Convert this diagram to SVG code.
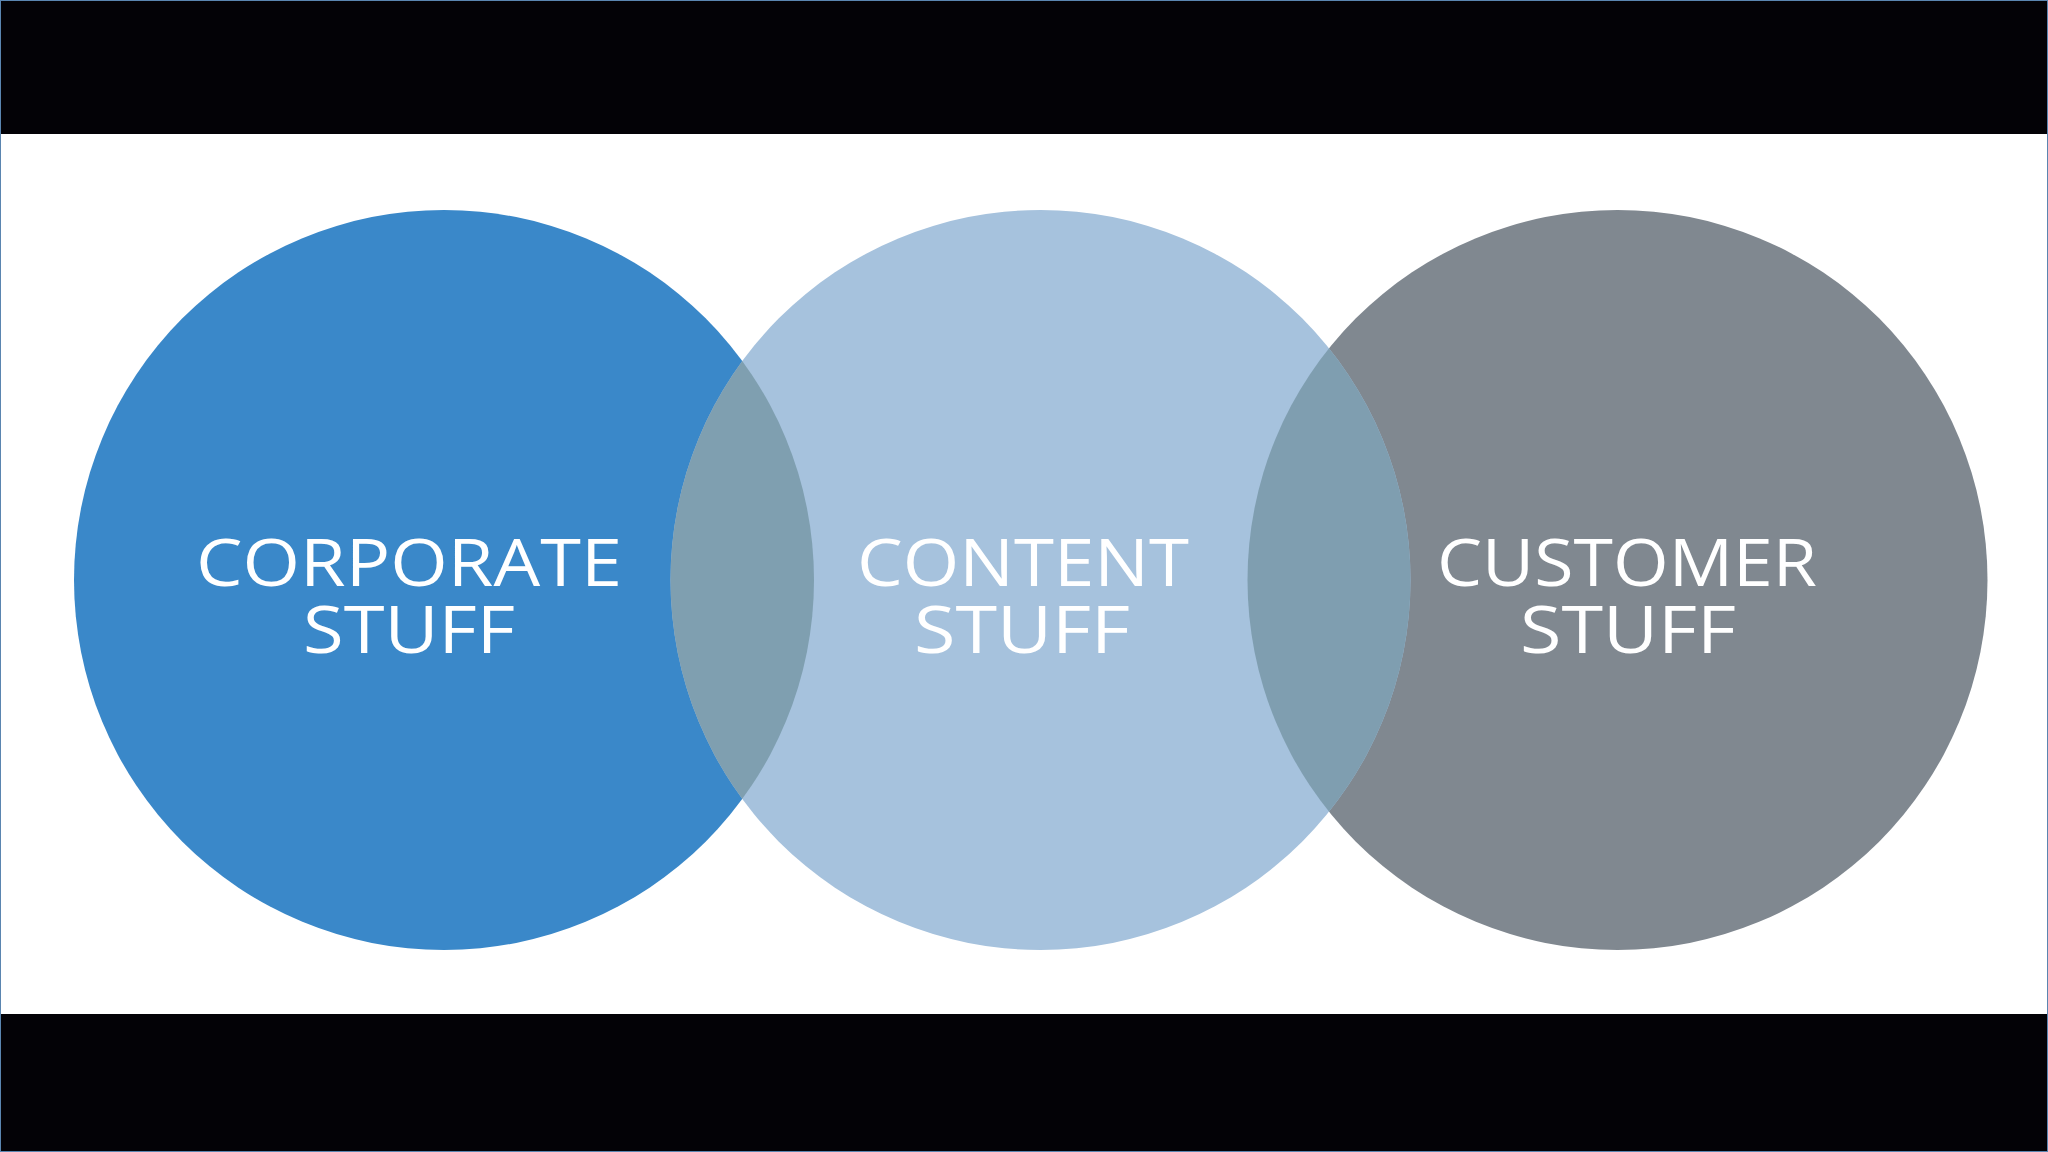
<svg xmlns="http://www.w3.org/2000/svg" width="2048" height="1152" viewBox="0 0 2048 1152">
  <style>
    .lbl { font-family: "Open Sans", "Liberation Sans", sans-serif; font-weight: 400; font-size: 66px; fill: #ffffff; text-anchor: middle; }
    .bar { fill: #030206; }
  </style>
  <defs>
    <clipPath id="clipLeft"><circle cx="444" cy="580" r="370"/></clipPath>
    <clipPath id="clipRight"><circle cx="1617.5" cy="580" r="370"/></clipPath>
  </defs>
  <rect x="0" y="0" width="2048" height="1152" fill="#ffffff"/>
  <rect class="bar" x="0" y="0" width="2048" height="134"/>
  <rect class="bar" x="0" y="1014" width="2048" height="138"/>
  <rect x="0.5" y="0.5" width="2047" height="1151" fill="none" stroke="#5a85b0" stroke-width="1"/>

  <g id="corporate">
    <circle cx="444" cy="580" r="370" fill="#3a88c9"/>
  </g>
  <g id="customer">
    <circle cx="1617.5" cy="580" r="370" fill="#808890"/>
  </g>
  <g id="content">
    <circle cx="1040.5" cy="580" r="370" fill="#a6c2dd"/>
  </g>
  <g id="overlaps">
    <circle cx="1040.5" cy="580" r="370" fill="#7f9fb0" clip-path="url(#clipLeft)"/>
    <circle cx="1040.5" cy="580" r="370" fill="#7f9eb0" clip-path="url(#clipRight)"/>
  </g>

  <g id="corporate-label">
    <text class="lbl" x="409" y="586" textLength="426" lengthAdjust="spacingAndGlyphs">CORPORATE</text>
    <text class="lbl" x="409" y="653" textLength="212" lengthAdjust="spacingAndGlyphs">STUFF</text>
  </g>
  <g id="content-label">
    <text class="lbl" x="1023" y="586" textLength="332" lengthAdjust="spacingAndGlyphs">CONTENT</text>
    <text class="lbl" x="1022" y="653" textLength="216" lengthAdjust="spacingAndGlyphs">STUFF</text>
  </g>
  <g id="customer-label">
    <text class="lbl" x="1627" y="586" textLength="380" lengthAdjust="spacingAndGlyphs">CUSTOMER</text>
    <text class="lbl" x="1628" y="653" textLength="216" lengthAdjust="spacingAndGlyphs">STUFF</text>
  </g>
  <g id="connectors"/>
</svg>
